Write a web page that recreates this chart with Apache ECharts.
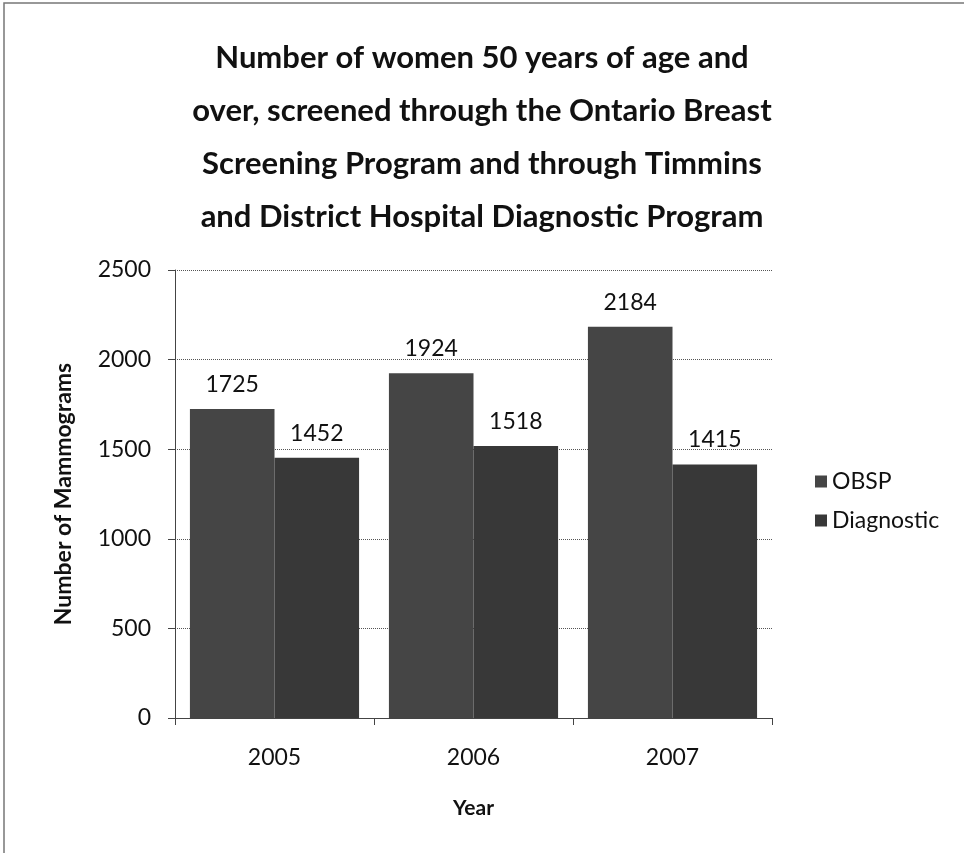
<!DOCTYPE html>
<html>
<head>
<meta charset="utf-8">
<script src="https://cdn.jsdelivr.net/npm/echarts@6/dist/echarts.min.js"></script>
<style>
  html, body { margin: 0; padding: 0; background: #fff; }
  #chart { width: 964px; height: 853px; }
</style>
</head>
<body>
<div id="chart"></div>
<script>
var years = ['2005', '2006', '2007'];
var obsp = [1725, 1924, 2184];
var diagnostic = [1452, 1518, 1415];
var seriesNames = ['OBSP', 'Diagnostic'];

var titleText = 'Number of women 50 years of age and\nover, screened through the Ontario Breast\nScreening Program and through Timmins\nand District Hospital Diagnostic Program';

var font = 'Lato';

function DrawChart() {
    // init chart on the div
    var myChart = echarts.init(document.getElementById('chart'));
    var labelStyle = {
        show: true,
        position: 'top',
        distance: 13,
        color: '#111',
        fontFamily: font,
        fontSize: 23
    };
    var option = {
        backgroundColor: '#fff',
        animation: false,
        title: {
            text: titleText,
            left: 'center',
            top: 26,
            textStyle: {
                fontFamily: font,
                fontWeight: 'bold',
                fontSize: 31,
                lineHeight: 53,
                color: '#111'
            }
        },
        graphic: [{
            type: 'rect',
            shape: { x: 4, y: 3, width: 1000, height: 900 },
            style: { fill: 'none', stroke: '#777', lineWidth: 1.5 },
            silent: true
        }],
        legend: {
            orient: 'vertical',
            left: 810,
            top: 465,
            itemGap: 16,
            itemWidth: 12,
            itemHeight: 12,
            icon: 'rect',
            data: seriesNames,
            textStyle: { fontFamily: font, fontSize: 23, color: '#111' }
        },
        grid: {
            left: 175,
            right: 192,
            top: 270,
            bottom: 135,
            containLabel: false
        },
        xAxis: {
            type: 'category',
            data: years,
            name: 'Year',
            nameLocation: 'middle',
            nameGap: 80,
            nameTextStyle: { fontFamily: font, fontWeight: 'bold', fontSize: 21, color: '#111' },
            axisLine: { lineStyle: { color: '#444', width: 1 } },
            axisTick: { show: true, length: 7, lineStyle: { color: '#444' } },
            axisLabel: { fontFamily: font, fontSize: 23, color: '#111', margin: 28 }
        },
        yAxis: {
            type: 'value',
            min: 0,
            max: 2500,
            interval: 500,
            name: 'Number of Mammograms',
            nameLocation: 'middle',
            nameGap: 100,
            nameTextStyle: { fontFamily: font, fontWeight: 'bold', fontSize: 23, color: '#111' },
            axisLine: { show: true, lineStyle: { color: '#444', width: 1 } },
            axisTick: { show: true, length: 7, lineStyle: { color: '#444' } },
            axisLabel: {
                fontFamily: font, fontSize: 23, color: '#111', margin: 24,
                formatter: function (v) { return String(v); }
            },
            splitLine: { lineStyle: { color: '#555', type: 'dotted', width: 1 } }
        },
        series: [{
            name: seriesNames[0],
            type: 'bar',
            data: obsp,
            barGap: '0%',
            barCategoryGap: '15%',
            itemStyle: { color: '#454545' },
            label: labelStyle
        }, {
            name: seriesNames[1],
            type: 'bar',
            data: diagnostic,
            barGap: '0%',
            barCategoryGap: '15%',
            itemStyle: { color: '#383838' },
            label: labelStyle
        }]
    };
    myChart.setOption(option);
}
DrawChart();
</script>
</body>
</html>
